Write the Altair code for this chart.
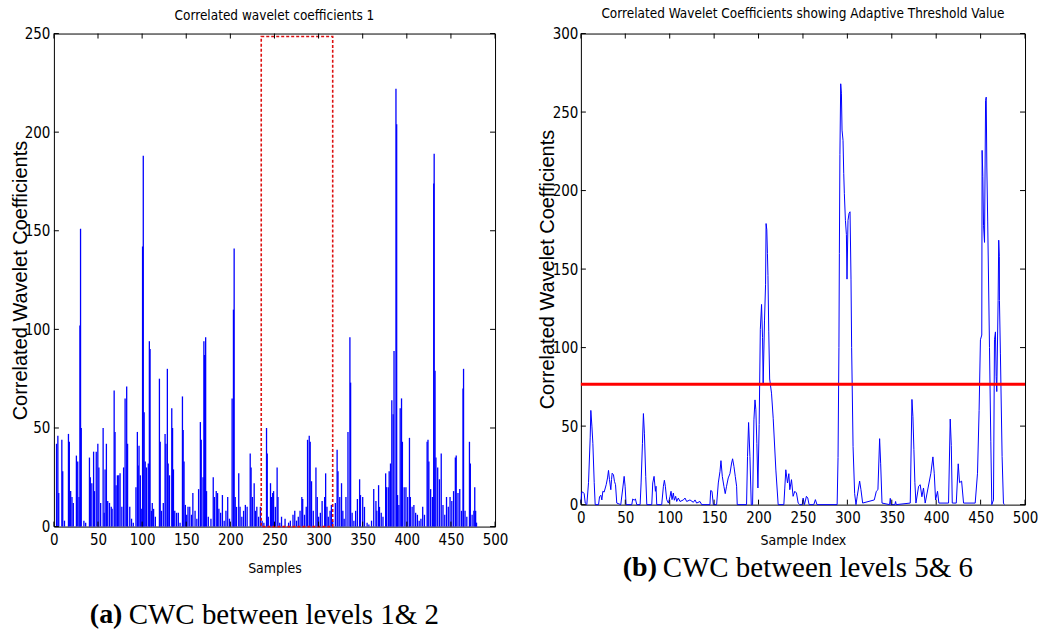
import altair as alt
import pandas as pd

COND = "DejaVu Sans Condensed, Liberation Sans Narrow, Liberation Sans, sans-serif"
SANS = "Liberation Sans, Arial, sans-serif"
SERIF = "Liberation Serif, Times New Roman, serif"
AXC = "#000000"

# ---------------- data: left panel (levels 1 & 2) ----------------
left_samples = [
    3, 4.5, 5.5, 9, 10, 12, 16.5, 17.5, 19, 20.5,
    22, 25.5, 27, 28.5, 29.5, 30.2, 31, 34, 36, 40.3,
    41.3, 43, 45, 46, 48, 49.8, 51, 53, 55.8, 57,
    58, 59.5, 61, 63, 65, 66, 68.3, 69.3, 70.5, 72,
    73.5, 75, 77, 79, 80.7, 82.5, 83.5, 86, 88, 90,
    93, 94.6, 95.5, 96.5, 98, 99, 100.5, 101.3, 102.3, 103.5,
    105, 107, 108.2, 109, 110.5, 111.5, 113, 115, 119.6, 120.5,
    122, 124, 126, 127, 128.6, 129.5, 131, 133.6, 134.5, 135.5,
    137, 139, 141, 143, 145.7, 146.5, 147.5, 149, 150.5, 152,
    154, 156, 157.5, 160, 162, 164, 166, 167, 169, 170,
    170.8, 172, 173, 175, 178, 180.6, 182, 184, 185.5, 187,
    189, 191, 193, 195, 197, 199, 202, 203.5, 204.3, 205.5,
    207, 209.5, 211, 213, 215, 217, 219, 222.5, 223.5, 225,
    227, 228.5, 230, 232, 234, 236, 238, 241, 241.8, 243,
    245.5, 246.5, 248, 249, 251, 253, 254, 256, 258, 262,
    266, 268, 271, 273, 275, 277, 279, 281, 282, 284,
    286, 287.5, 289.4, 290.5, 292, 294, 297, 298.5, 300, 302,
    304, 306.9, 308, 309.5, 311, 313, 314.5, 316, 319, 321,
    322, 324, 326, 327.5, 329, 331, 333.3, 335.5, 336.3, 338,
    340, 342, 344, 346.5, 347.5, 350, 352, 355, 357, 360,
    362.5, 365, 366, 368, 369, 371, 373, 376, 377, 379,
    380, 381.5, 383, 384.5, 385.5, 387.7, 388.5, 389.5, 391, 392.5,
    394, 395, 397, 399, 401, 403, 404, 406, 408, 410,
    412, 414, 416, 418, 420, 423, 424, 425, 427, 429,
    430.5, 431, 432, 433, 435, 437, 439, 441, 443, 445,
    447, 449, 451, 453, 455, 456, 458, 460, 462, 463.7,
    464.3, 466, 468, 471, 472, 474, 476, 477, 478, 479,
]
left_values = [
    42, 46, 17, 44, 28, 3, 47, 43, 18, 15,
    12, 36, 33, 15, 102, 151, 50, 3, 2, 35,
    25, 22, 38, 18, 38, 42, 30, 12, 50, 7,
    29, 42, 13, 12, 10, 9, 69, 48, 21, 26,
    26, 27, 10, 30, 65, 71, 42, 10, 4, 2,
    20, 48, 31, 41, 26, 9, 142, 188, 58, 33,
    30, 32, 94, 90, 8, 12, 9, 5, 75, 43,
    8, 12, 47, 42, 80, 32, 26, 60, 50, 29,
    8, 7, 7, 2, 66, 49, 33, 11, 6, 10,
    10, 6, 17, 8, 4, 19, 53, 44, 25, 94,
    87, 96, 18, 5, 4, 25, 15, 18, 17, 9,
    7, 16, 3, 8, 15, 4, 65, 110, 141, 15,
    10, 27, 10, 5, 8, 11, 10, 37, 30, 15,
    22, 8, 10, 5, 10, 3, 2, 50, 37, 5,
    22, 15, 17, 18, 10, 30, 15, 2, 5, 4,
    2, 3, 6, 8, 3, 5, 8, 15, 14, 6,
    10, 44, 46, 43, 23, 8, 30, 15, 5, 7,
    13, 15, 27, 10, 5, 8, 11, 3, 12, 39,
    28, 15, 22, 8, 4, 15, 48, 96, 73, 7,
    3, 8, 14, 24, 16, 15, 10, 2, 1, 3,
    19, 13, 8, 21, 10, 7, 5, 27, 20, 20,
    28, 32, 64, 57, 89, 222, 204, 16, 11, 60,
    65, 43, 20, 20, 15, 45, 15, 10, 11, 7,
    6, 3, 4, 10, 6, 43, 44, 33, 19, 15,
    174, 189, 79, 35, 30, 24, 37, 11, 6, 15,
    10, 15, 13, 18, 35, 36, 17, 19, 8, 70,
    80, 8, 5, 43, 32, 6, 8, 20, 8, 2,
]

# highlighted region (red dotted box)
box_start = [235]
box_end = [316]
box_low = [0]
box_high = [248.5]

# ---------------- data: right panel (levels 5 & 6) ----------------
right_samples = [
    0, 1, 2.2, 3.7, 4.9, 6.7, 8.6, 10.5, 11.2, 12.4,
    13.5, 15, 16.1, 19.9, 21, 22.5, 23.6, 24.7, 26.2, 28.5,
    30, 31.1, 32.2, 33.7, 34.5, 35.2, 36.7, 37.8, 39, 40.4,
    44.9, 47.2, 48.7, 49.8, 50.9, 57.3, 58.4, 59.9, 61.4, 62.9,
    66.7, 67.8, 69.3, 70.4, 71.5, 73, 74.2, 79.8, 80.9, 82.4,
    83.9, 84.6, 85.4, 91, 92.9, 94, 95.1, 96.6, 98.5, 100.4,
    101.5, 102.6, 104.1, 105.2, 106.7, 107.9, 109.7, 111.6, 115.4, 117.2,
    119.1, 122.8, 126.6, 128.5, 130.3, 134.1, 136, 145.3, 146.1, 147.6,
    149.1, 152.8, 154.7, 156.6, 157.7, 159.2, 161, 162.5, 164, 165.9,
    167.8, 169.7, 170.8, 172.3, 173.8, 175.3, 176, 186.5, 187.6, 188.8,
    190.3, 191.8, 193.3, 194.8, 196, 197, 198.1, 199.3, 200.7, 202,
    203.4, 204.5, 205.2, 206.7, 207.9, 208.5, 209.3, 210, 210.6, 211.5,
    212.5, 214.6, 216.5, 219.5, 222.1, 228.5, 229.5, 230.7, 232.6, 234.1,
    235.2, 237.1, 238.9, 240.8, 242.7, 244.6, 246.4, 249.2, 250.2, 251.7,
    253.9, 255.4, 256.9, 262.2, 264, 265.8, 288.5, 289.5, 290.5, 291,
    291.6, 292.5, 293.3, 294, 295.1, 295.9, 296.6, 297.8, 298.9, 299.6,
    300.7, 301.9, 303, 304.1, 304.8, 305.5, 306.4, 308.2, 309.7, 311,
    313.8, 315.3, 317.2, 330.3, 332.6, 334.4, 336.3, 337.5, 339, 347.5,
    348.3, 349, 353.5, 354.3, 355, 370.8, 372.7, 373.8, 374.9, 376,
    377.2, 380.2, 382, 383.9, 385.7, 387.6, 394, 396.3, 397.8, 399.3,
    401.5, 403, 413.9, 415.8, 417, 418.1, 422.6, 424.8, 426.3, 428.6,
    430.8, 443.9, 446.5, 448.3, 449.8, 451.3, 451.7, 452.5, 453.3, 454.4,
    455.6, 456.3, 457, 458, 460, 461.5, 462.6, 464.5, 465.6, 466.7,
    467.5, 468.2, 469.7, 470.4, 471.1, 471.2, 472.3, 474.2, 475.7, 476.7,
]
right_values = [
    1, 8, 8, 7, 1, 0, 14, 43, 60, 50,
    39, 14, 0, 0, 5, 6, 3, 8.5, 8, 12.7,
    17, 21.8, 15.9, 9.5, 15.9, 20, 19, 14.8, 12.7, 1,
    0, 10.6, 18, 11.7, 0, 0, 3.6, 2.8, 3.6, 0,
    0, 13.8, 39, 58, 45.5, 18, 0, 0, 13.8, 18,
    8.5, 11.7, 0, 0, 11.7, 15.5, 11.7, 3.2, 1, 5.3,
    8.5, 3.2, 7.4, 2.8, 5.3, 2, 4.2, 2, 3, 4.2,
    2, 3, 1.5, 3, 1, 2, 0, 0, 9, 8.5,
    0, 0, 13.8, 21.2, 28, 18, 11.7, 7, 11.7, 17,
    19.7, 26.5, 29.2, 24.4, 18, 11.7, 0, 0, 30.7, 52.3,
    30.7, 0, 0, 54, 66.7, 60.4, 39, 10.6, 51, 111.6,
    127.5, 106.3, 76.7, 117, 140, 179, 175, 160, 146, 110,
    80, 71, 55, 22, 0, 0, 10, 22.2, 13.8, 19.7,
    9.5, 15.9, 5.3, 8.5, 7.4, 1, 0, 0, 4.2, 0,
    5.3, 4.2, 0, 0, 3.2, 0, 0, 30, 100, 160,
    223, 268, 262, 238.5, 232, 211, 198, 181, 172, 143.6,
    181, 185.5, 186.5, 143.6, 100, 73, 37, 7, 0, 5,
    15, 9.5, 1, 3, 8.5, 9.5, 42, 26, 1, 0,
    4, 0, 0, 2, 0, 1, 67, 56, 35, 14,
    1, 11.7, 12.7, 5, 10.6, 1, 20, 30.4, 20, 3,
    8.5, 1, 1, 54.5, 37.6, 1, 1, 26, 14, 15,
    1, 1, 20, 60, 105, 108, 225.6, 209, 177.6, 167,
    257.4, 259.5, 215, 180, 100, 40, 0, 3, 105, 110,
    81.6, 72, 130, 168.4, 158, 130, 96, 30.7, 1, 0,
]
threshold_value = [76.7]

# ---------------- ticks & texts ----------------
x_ticks = [0, 50, 100, 150, 200, 250, 300, 350, 400, 450, 500]
left_y_ticks = [0, 50, 100, 150, 200, 250]
right_y_ticks = [0, 50, 100, 150, 200, 250, 300]

left_title = ["Correlated wavelet coefficients 1"]
right_title = ["Correlated Wavelet Coefficients showing Adaptive Threshold Value"]
y_title = "Correlated Wavelet Coefficients"
left_x_title = "Samples"
right_x_title = "Sample Index"
caption_a = ["(a)", "CWC between levels 1& 2"]
caption_b = ["(b)", "CWC between levels 5& 6"]

LW, LH = 442, 494
RW, RH = 445, 472


def inward_ticks(xenc_field, yenc_field, yticks, w, h):
    xt = alt.Chart(pd.DataFrame({"t": x_ticks})).mark_rule(color=AXC, strokeWidth=1)
    yt = alt.Chart(pd.DataFrame({"t": yticks})).mark_rule(color=AXC, strokeWidth=1)
    xe = xenc_field("t:Q")
    ye = yenc_field("t:Q")
    return [
        xt.encode(x=xe, y=alt.value(h), y2=alt.value(h - 5)),
        xt.encode(x=xe, y=alt.value(0), y2=alt.value(5)),
        yt.encode(y=ye, x=alt.value(0), x2=alt.value(5)),
        yt.encode(y=ye, x=alt.value(w - 5), x2=alt.value(w)),
    ]


def text_layer(txt, x, y, font, size, weight="normal", align="left", baseline="middle"):
    return alt.Chart(pd.DataFrame({"t": txt})).mark_text(
        font=font, fontSize=size, fontWeight=weight, align=align, baseline=baseline, color="#000"
    ).encode(text="t:N", x=alt.value(x), y=alt.value(y))


# ---------------- left panel ----------------
xs_l = alt.Scale(domain=[0, 500], nice=False, zero=False)
ys_l = alt.Scale(domain=[0, 250], nice=False)
ax_xl = alt.Axis(values=x_ticks, title=left_x_title, labelPadding=6,
                 titleY=42, titleBaseline="middle")
ax_yl = alt.Axis(values=left_y_ticks, title=y_title, labelPadding=4,
                 titleX=-27, titleY=LH / 2, titleBaseline="alphabetic")


def XL(f):
    return alt.X(f, scale=xs_l, axis=ax_xl)


def YL(f):
    return alt.Y(f, scale=ys_l, axis=ax_yl)


left_df = pd.DataFrame({"sample": left_samples, "value": left_values})
spikes = alt.Chart(left_df).mark_rule(color="#0000ff", strokeWidth=1.3).encode(
    x=XL("sample:Q"), y=YL("value:Q"), y2=alt.datum(0),
)
box_df = pd.DataFrame({"a": box_start, "b": box_end, "lo": box_low, "hi": box_high})
box = alt.Chart(box_df).mark_rect(
    fillOpacity=0, stroke="#dd1111", strokeWidth=1.6, strokeDash=[3, 2]
).encode(x=XL("a:Q"), x2="b:Q", y=YL("lo:Q"), y2="hi:Q")

left = alt.layer(
    spikes, box, *inward_ticks(XL, YL, left_y_ticks, LW, LH),
    text_layer(left_title, LW / 2, -13.5, COND, 13.5, align="center", baseline="alphabetic"),
    text_layer(caption_a[:1], 36, 583, SERIF, 28, weight="bold"),
    text_layer(caption_a[1:], 75, 583, SERIF, 29),
).properties(width=LW, height=LH)

# ---------------- right panel ----------------
xs_r = alt.Scale(domain=[0, 500], nice=False, zero=False)
ys_r = alt.Scale(domain=[0, 300], nice=False)
ax_xr = alt.Axis(values=x_ticks, title=right_x_title, labelPadding=6,
                 titleY=36, titleBaseline="middle")
ax_yr = alt.Axis(values=right_y_ticks, title=y_title, labelPadding=3,
                 titleX=-27, titleY=RH / 2, titleBaseline="alphabetic")


def XR(f):
    return alt.X(f, scale=xs_r, axis=ax_xr)


def YR(f):
    return alt.Y(f, scale=ys_r, axis=ax_yr)


right_df = pd.DataFrame({"sample": right_samples, "value": right_values})
curve = alt.Chart(right_df).mark_line(color="#0000ff", strokeWidth=1).encode(
    x=XR("sample:Q"), y=YR("value:Q"), order=alt.Order("sample:Q"),
)
thr = alt.Chart(pd.DataFrame({"v": threshold_value})).mark_rule(
    color="#ff0000", strokeWidth=3
).encode(y=YR("v:Q"))

right = alt.layer(
    curve, thr, *inward_ticks(XR, YR, right_y_ticks, RW, RH),
    text_layer(right_title, RW / 2, -15.5, COND, 13.5, align="center", baseline="alphabetic"),
    text_layer(caption_b[:1], 42, 536, SERIF, 28, weight="bold"),
    text_layer(caption_b[1:], 82, 536, SERIF, 29),
).properties(width=RW, height=RH)

chart = alt.hconcat(left, right, spacing=86, bounds="flush").properties(
    padding={"left": 10, "top": 6, "right": 0, "bottom": 0},
    background="white",
).configure_view(
    stroke=AXC, strokeWidth=1
).configure_axis(
    domain=False, ticks=False, grid=False, labelFlush=False, labelOverlap=False,
    labelFont=COND, labelFontSize=15, labelColor="#000",
    titleColor="#000", titleFontWeight="normal",
).configure_axisX(
    titleFont=COND, titleFontSize=14,
).configure_axisY(
    titleFont=SANS, titleFontSize=20,
)

chart.save("out.html", embed_options={"renderer": "svg", "actions": False})
